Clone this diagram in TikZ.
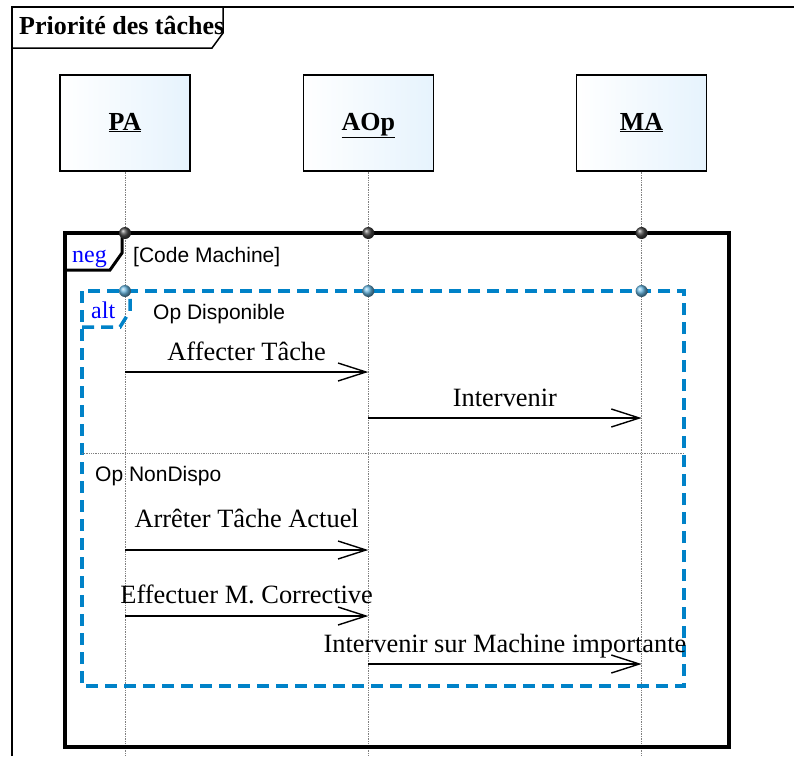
\documentclass[tikz,border=0pt]{standalone}
\usepackage{fontspec}
\setmainfont{Liberation Serif}
\setsansfont{Liberation Sans}
\usetikzlibrary{arrows.meta,positioning}
\definecolor{altblue}{RGB}{0,130,200}
\definecolor{boxblue}{RGB}{230,243,253}
\definecolor{dotgray}{RGB}{70,70,70}

\begin{document}
\begin{tikzpicture}[x=1pt, y=-1pt, node distance=112pt,
  every node/.style={font=\fontsize{26.4}{30}\selectfont},
  life/.style={draw, line width=1.3pt, minimum width=130pt, minimum height=96pt, text height=18pt, text depth=4pt, left color=white, right color=boxblue, font=\fontsize{26}{30}\selectfont\bfseries},
  lifeline/.style={draw=gray, densely dotted, line width=0.7pt},
  msg/.style={-{Straight Barb[length=28pt,width=18pt]}, line width=1.4pt},
  lbl/.style={above=#1, inner sep=0pt, text depth=0pt},
  guard/.style={anchor=base west, inner sep=0pt, font=\sffamily\fontsize{21}{24}\selectfont},
  kw/.style={anchor=base west, inner sep=0pt, text=blue, font=\fontsize{24}{28}\selectfont},
  negframe/.style={draw, line width=3.5pt},
  altframe/.style={draw=altblue, line width=3.5pt, dash pattern=on 12pt off 7pt}
]
\useasboundingbox (0,0) rectangle (794,756);
\coordinate (bottom) at (0,756);

% outer frame and title
\draw[line width=1.5pt] (12,756) -- (12,7) -- (794,7);
\draw[line width=1.5pt] (12,7) -- (223,7) -- (223,33) -- (212,48) -- (12,48);
\node[anchor=base west, inner sep=0pt, font=\fontsize{26}{30}\selectfont\bfseries] (title) at (19,34) {Priorité des tâches};

% lifelines
\node[life] (pa) at (125,123) {\underline{PA}};
\node[life, right=of pa] (aop) {\underline{AOp}};
\node[life, right=142pt of aop] (ma) {\underline{MA}};
\foreach \n in {pa,aop,ma}
  \draw[lifeline] (\n.south) -- (\n.south |- bottom);

% neg fragment
\draw[negframe] (65,233) rectangle (729,747);
\draw[line width=3pt] (65,270) -- (110,270) -- (122,253) -- (122,233);
\node[kw] (neg) at (72,262) {neg};
\node[guard] (codem) at (133,262) {[Code Machine]};

% alt fragment
\draw[altframe] (82,291) rectangle (684,686);
\draw[altframe] (82,327) -- (120,327) -- (130,311) -- (130,291);
\node[kw] (alt) at (91,318) {alt};
\node[guard] (dispo) at (153,319) {Op Disponible};
\draw[draw=gray, densely dotted, line width=0.8pt] (82,453) -- (684,453);
\node[guard] (nondispo) at (95,481) {Op NonDispo};

\foreach \n in {pa,aop,ma} {
  \shade[ball color=dotgray] (\n |- 0,233) circle (6pt);
  \shade[ball color=altblue!60!white] (\n |- 0,291) circle (6pt);
}

% messages
\foreach \y/\a/\b/\g/\txt [count=\i] in {372/pa/aop/11pt/Affecter Tâche,
    418/aop/ma/11pt/Intervenir,
    550/pa/aop/22pt/Arrêter Tâche Actuel,
    616/pa/aop/12pt/Effectuer M. Corrective,
    664/aop/ma/11pt/Intervenir sur Machine importante} {
  \coordinate (s\i) at (\a |- 0,\y);
  \coordinate (e\i) at (\b |- 0,\y);
  \draw[msg] (s\i) -- node[lbl=\g] {\txt} (e\i);
}
\end{tikzpicture}
\end{document}
